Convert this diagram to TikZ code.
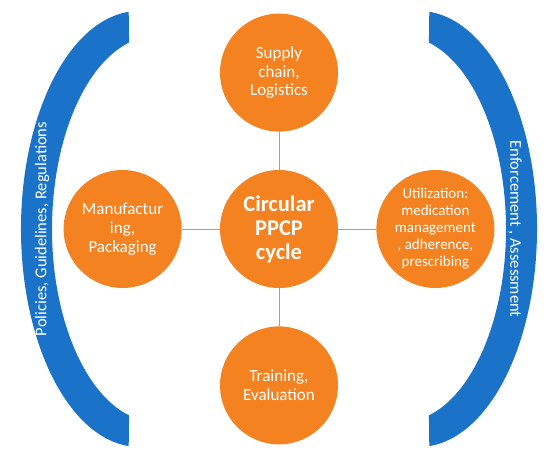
\documentclass[tikz,border=0pt]{standalone}
\usepackage{fontspec}
\setmainfont{Carlito}
\usepackage{xcolor}
\usetikzlibrary{positioning}
\definecolor{ppcporange}{HTML}{F58220}
\definecolor{ppcpline}{HTML}{EE8A4A}
\definecolor{ppcpblue}{HTML}{1A73C8}
\tikzset{
  cycnode/.style  ={circle, fill=ppcporange, minimum size=118pt, inner sep=0pt,
                    text=white, align=center, font=\fontsize{17}{18.8}\selectfont},
  hubnode/.style  ={cycnode, font=\fontsize{22.5}{24}\selectfont\bfseries},
  usenode/.style  ={cycnode, font=\fontsize{15}{17}\selectfont},
  link/.style     ={draw=ppcpline, line width=0.9pt},
  brace/.style    ={fill=ppcpblue},
  bracetext/.style={text=white, font=\fontsize{16.5}{18}\selectfont}
}
\begin{document}
\begin{tikzpicture}[x=1pt, y=1pt, node distance=38pt]
  \useasboundingbox (0,0) rectangle (550,458);
  % the two side brackets
  \fill[brace] (128.7,446.2) arc[start angle=95, end angle=265, x radius=118, y radius=218]
    -- (129.1,42.6) arc[start angle=255, end angle=105, x radius=104, y radius=193] -- cycle;
  \fill[brace] (429.3,446.2) arc[start angle=85, end angle=-85, x radius=118, y radius=218]
    -- (428.9,42.6) arc[start angle=-75, end angle=75, x radius=104, y radius=193] -- cycle;
  \node[bracetext, rotate=90]  (policy)  at (42,229)  {Policies, Guidelines, Regulations};
  \node[bracetext, rotate=-90] (enforce) at (515,229) {Enforcement , Assessment};
  % cycle
  \node[hubnode] (hub) at (279,229) {Circular\\PPCP\\cycle};
  \node[cycnode, above=of hub] (supply) {Supply\\chain,\\Logistics};
  \node[cycnode, left=of hub]  (manu)   {Manufactur\\ing,\\Packaging};
  \node[usenode, right=of hub] (util)   {Utilization:\\medication\\management\\, adherence,\\prescribing};
  \node[cycnode, below=of hub] (train)  {Training,\\Evaluation};
  \draw[link] (hub) -- (supply); \draw[link] (hub) -- (manu);
  \draw[link] (hub) -- (util);   \draw[link] (hub) -- (train);
\end{tikzpicture}
\end{document}
